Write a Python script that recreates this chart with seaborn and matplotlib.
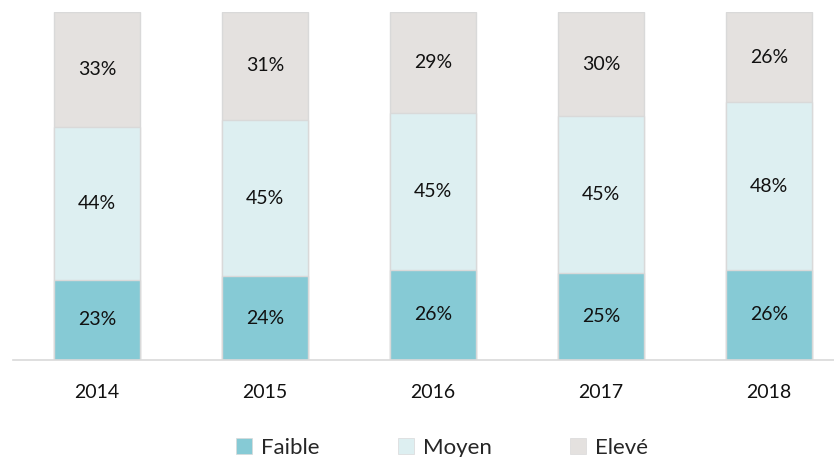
import pandas as pd
import matplotlib.pyplot as plt
import seaborn as sns
from matplotlib.patches import Patch

annees = ["2014", "2015", "2016", "2017", "2018"]
faible = [23, 24, 26, 25, 26]
moyen = [44, 45, 45, 45, 48]
eleve = [33, 31, 29, 30, 26]

couleurs = {"Faible": "#86CAD5", "Moyen": "#DDEFF1", "Elevé": "#E4E1DF"}

df = pd.DataFrame({"Annee": annees, "Faible": faible, "Moyen": moyen, "Elevé": eleve})
df["cum_moyen"] = df["Faible"] + df["Moyen"]
df["cum_eleve"] = df["cum_moyen"] + df["Elevé"]

sns.set_style("white")
plt.rcParams["font.family"] = ["Lato", "DejaVu Sans"]

fig = plt.figure(figsize=(8.34, 4.57), dpi=100)
ax = fig.add_axes([13 / 834, 97 / 457, 840 / 834, 348 / 457])

# empilement : on dessine les cumuls du haut vers le bas
for col, cle in [("cum_eleve", "Elevé"), ("cum_moyen", "Moyen"), ("Faible", "Faible")]:
    sns.barplot(data=df, x="Annee", y=col, color=couleurs[cle], width=0.51,
                edgecolor="#D9D9D9", linewidth=1, saturation=1, ax=ax)

# étiquettes au milieu de chaque segment
for i in range(len(annees)):
    bas = 0
    for vals in (faible, moyen, eleve):
        v = vals[i]
        ax.text(i, bas + v / 2, f"{v}%", ha="center", va="center", fontsize=14, color="#111111")
        bas += v

ax.set_xlim(-0.5, 4.5)
ax.set_ylim(0, 100)
ax.set_xlabel("")
ax.set_ylabel("")
ax.set_yticks([])
ax.tick_params(axis="x", length=0, pad=17, labelsize=14, labelcolor="#111111")
for s in ["top", "right", "left"]:
    ax.spines[s].set_visible(False)
ax.spines["bottom"].set_color("#D9D9D9")
ax.spines["bottom"].set_linewidth(1.2)

handles = [Patch(facecolor=couleurs[k], edgecolor="#D9D9D9", linewidth=0.5, label=k)
           for k in ["Faible", "Moyen", "Elevé"]]
fig.legend(handles=handles, loc="center", bbox_to_anchor=(0.53, 0.02), ncol=3,
           frameon=False, fontsize=16, handlelength=0.75, handleheight=0.75,
           handletextpad=0.4, columnspacing=3.5)

plt.savefig("out.png", dpi=100)
